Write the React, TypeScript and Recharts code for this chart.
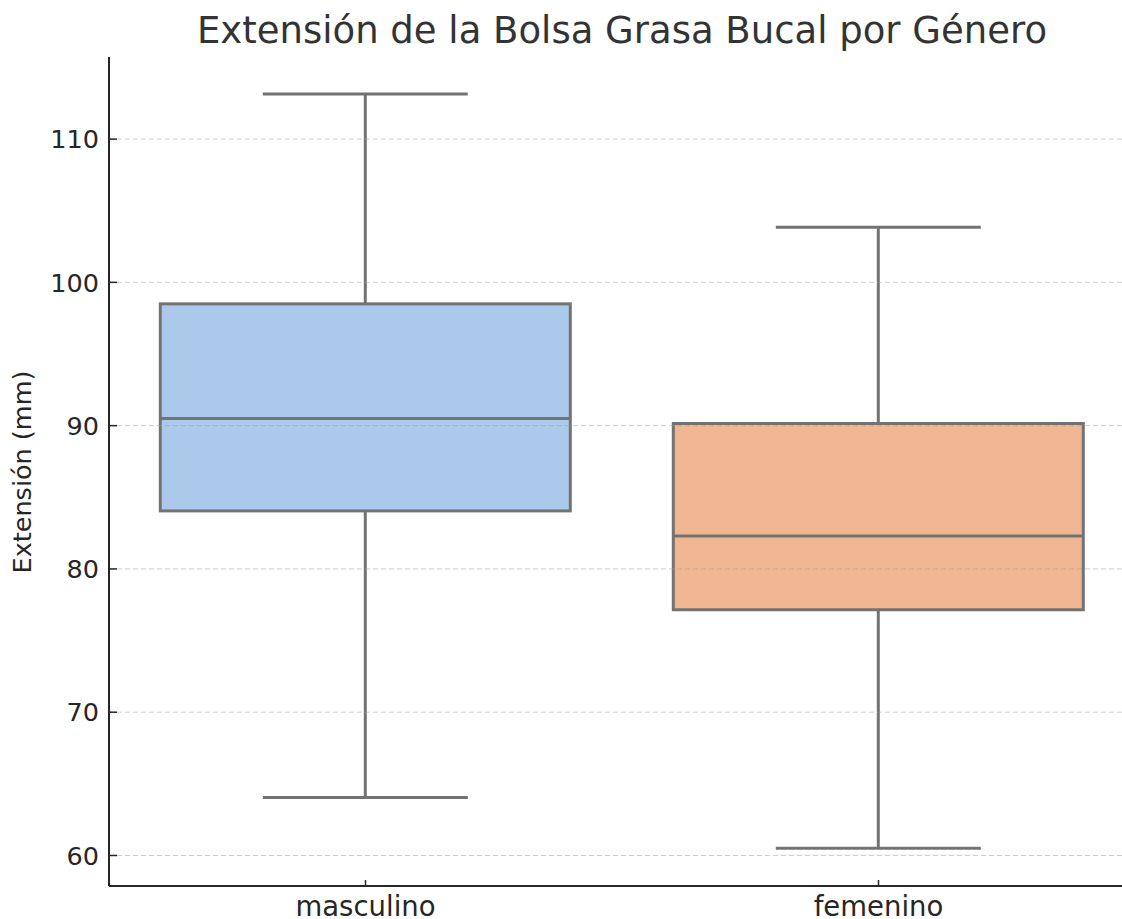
import { Bar, ComposedChart, ReferenceLine, XAxis, YAxis } from 'recharts';

const categories = ['masculino', 'femenino'];
const whiskerLow = [64.05, 60.5];
const q1 = [84.05, 77.15];
const median = [90.5, 82.3];
const q3 = [98.5, 90.15];
const whiskerHigh = [113.15, 103.85];
const boxColors = ['#abc9ea', '#f0b692'];
const yTicks = [60, 70, 80, 90, 100, 110];

const data = categories.map((name, i) => ({
  name,
  range: [whiskerLow[i], whiskerHigh[i]],
  low: whiskerLow[i],
  q1: q1[i],
  median: median[i],
  q3: q3[i],
  high: whiskerHigh[i],
  color: boxColors[i],
}));

const LINE = '#737373';
const FONT = '"DejaVu Sans", sans-serif';

type BoxShapeProps = {
  x: number;
  y: number;
  width: number;
  height: number;
  payload: (typeof data)[number];
};

const BoxShape = ({ x, y, width, height, payload }: BoxShapeProps) => {
  const top = Math.min(y, y + height);
  const h = Math.abs(height);
  const perUnit = h / (payload.high - payload.low);
  const yOf = (v: number) => top + (payload.high - v) * perUnit;
  const cx = x + width / 2;
  const capHalf = width / 4;
  return (
    <g>
      <line x1={cx} x2={cx} y1={yOf(payload.high)} y2={yOf(payload.q3)} stroke={LINE} strokeWidth={3} />
      <line x1={cx} x2={cx} y1={yOf(payload.q1)} y2={yOf(payload.low)} stroke={LINE} strokeWidth={3} />
      <line x1={cx - capHalf} x2={cx + capHalf} y1={yOf(payload.high)} y2={yOf(payload.high)} stroke={LINE} strokeWidth={3} />
      <line x1={cx - capHalf} x2={cx + capHalf} y1={yOf(payload.low)} y2={yOf(payload.low)} stroke={LINE} strokeWidth={3} />
      <rect
        x={x}
        y={yOf(payload.q3)}
        width={width}
        height={yOf(payload.q1) - yOf(payload.q3)}
        fill={payload.color}
        stroke={LINE}
        strokeWidth={3}
      />
      <line x1={x} x2={x + width} y1={yOf(payload.median)} y2={yOf(payload.median)} stroke={LINE} strokeWidth={3} />
    </g>
  );
};

const YTick = ({ x, y, payload }: any) => (
  <g>
    <line x1={x + 10} x2={x + 18} y1={y} y2={y} stroke="#262626" strokeWidth={1.5} />
    <text x={x} y={y} dy="0.36em" textAnchor="end" fill="#262626" fontSize={25.5} fontFamily={FONT}>
      {payload.value}
    </text>
  </g>
);

const XTick = ({ x, y, payload }: any) => (
  <g>
    <line x1={x} x2={x} y1={y - 6} y2={y - 12} stroke="#262626" strokeWidth={1.5} />
    <text x={x} y={y + 24} textAnchor="middle" fill="#262626" fontSize={27.5} fontFamily={FONT}>
      {payload.value}
    </text>
  </g>
);

export default function App() {
  return (
    <div
      style={{
        position: 'absolute',
        left: 0,
        top: 0,
        width: 1122,
        height: 919,
        overflow: 'hidden',
        background: '#fff',
        fontFamily: FONT,
      }}
    >
      <div
        style={{
          position: 'absolute',
          left: 109,
          width: 1026,
          top: 7,
          textAlign: 'center',
          fontSize: 37,
          color: '#333333',
          lineHeight: '48px',
        }}
      >
        Extensión de la Bolsa Grasa Bucal por Género
      </div>
      <div
        style={{
          position: 'absolute',
          left: 22,
          top: 472,
          transform: 'translate(-50%, -50%) rotate(-90deg)',
          whiteSpace: 'nowrap',
          fontSize: 25.5,
          color: '#262626',
        }}
      >
        Extensión (mm)
      </div>
      <div style={{ position: 'absolute', left: 0, top: 0 }}>
        <ComposedChart
          width={1150}
          height={919}
          data={data}
          margin={{ top: 57, right: 15, bottom: 0, left: 0 }}
          barCategoryGap="10%"
        >
          <XAxis
            dataKey="name"
            height={33}
            axisLine={{ stroke: '#262626', strokeWidth: 2 }}
            tickLine={false}
            tickSize={0}
            tickMargin={6}
            tick={<XTick />}
          />
          <YAxis
            domain={[57.87, 115.73]}
            ticks={yTicks}
            width={109}
            allowDataOverflow
            axisLine={{ stroke: '#262626', strokeWidth: 2 }}
            tickLine={false}
            tickSize={0}
            tickMargin={10}
            tick={<YTick />}
          />
          <Bar dataKey="range" isAnimationActive={false} shape={(props: any) => <BoxShape {...props} />} />
          {yTicks.map((t) => (
            <ReferenceLine
              key={t}
              y={t}
              stroke="#a0a0a0"
              strokeOpacity={0.5}
              strokeDasharray="5 3"
              strokeWidth={1}
            />
          ))}
        </ComposedChart>
      </div>
    </div>
  );
}
